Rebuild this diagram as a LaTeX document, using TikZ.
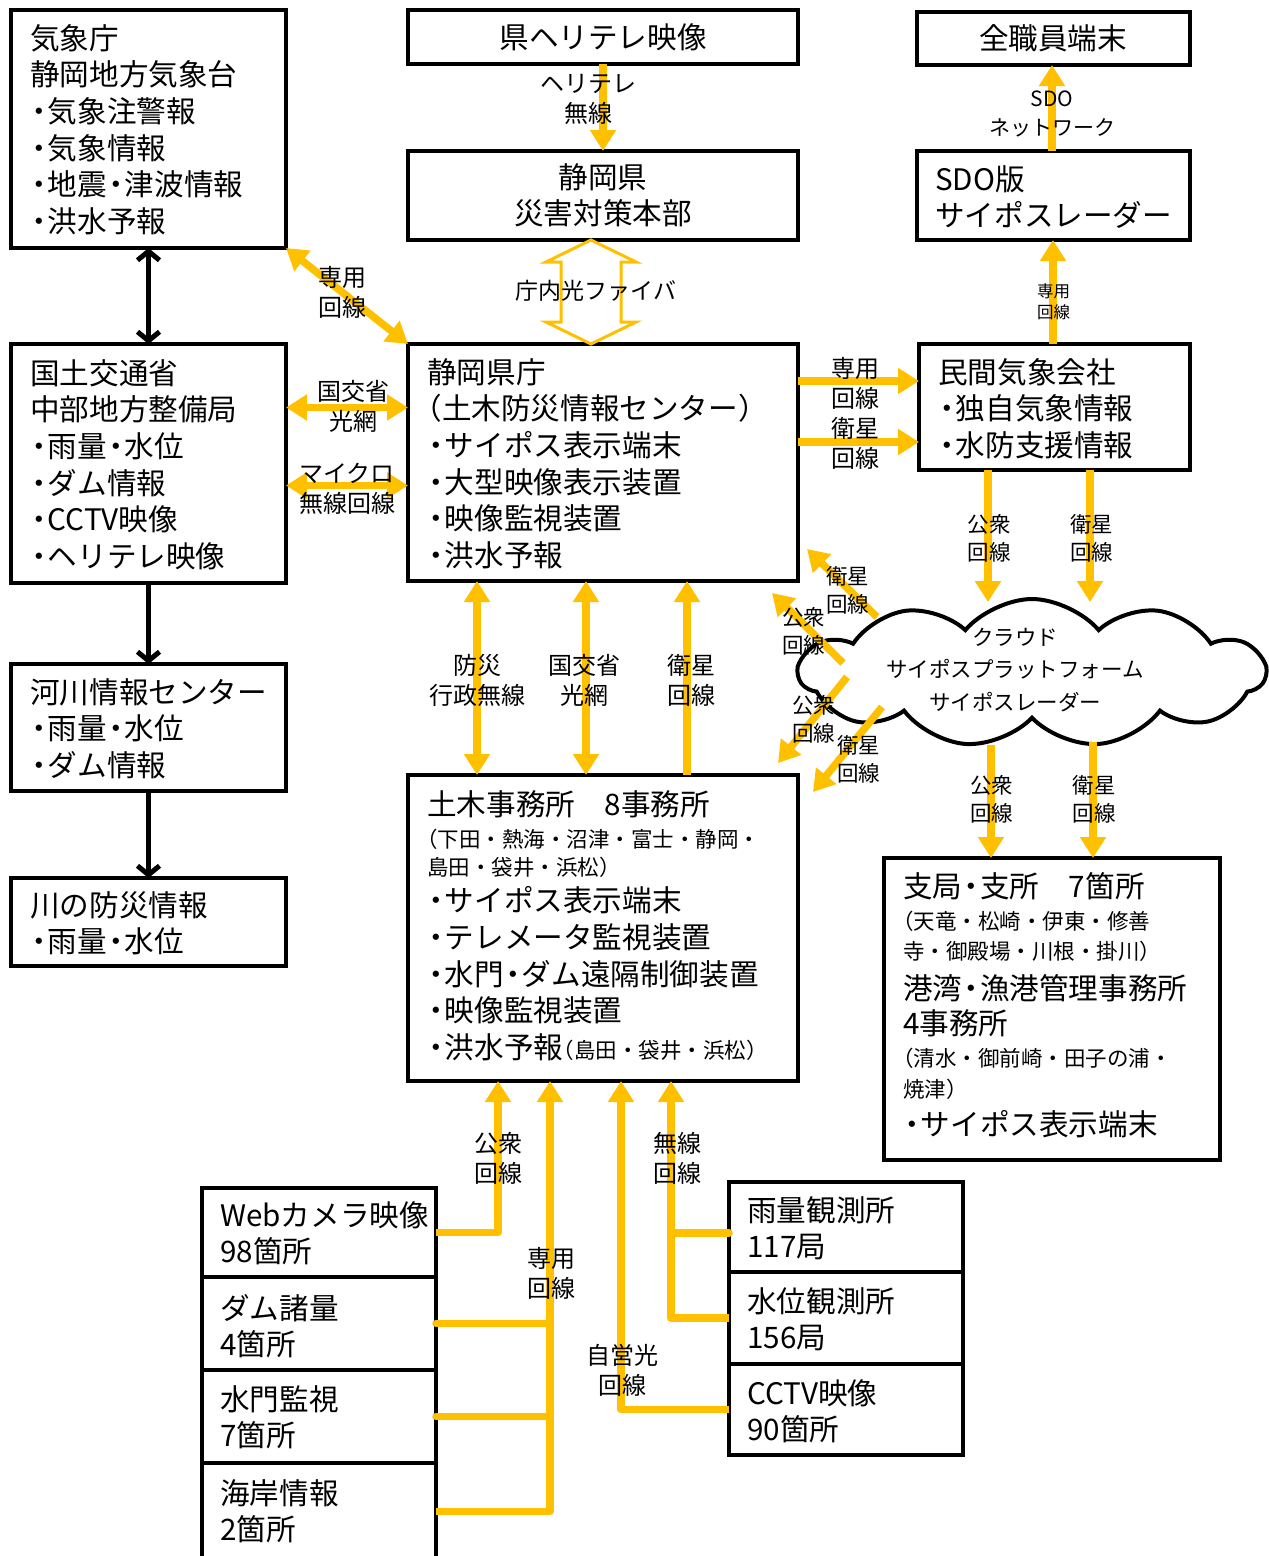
\documentclass[tikz,border=0pt]{standalone}
\usepackage{fontspec}
\setmainfont{Noto Sans CJK JP}
\usetikzlibrary{arrows.meta,shapes.symbols,calc}
\definecolor{ycol}{HTML}{FFC000}
\newcommand{\smtxt}[1]{{\fontsize{21.5}{36.7}\selectfont #1}}
\newcommand{\dt}{\makebox[0.6em][c]{・}}
\newcommand{\lp}{\makebox[0.5em][r]{（}}
\newcommand{\rp}{\makebox[0.5em][l]{）}}
\begin{document}
\begin{tikzpicture}[x=1pt,y=-1pt,
  box/.style={draw=black, line width=4pt, rectangle, inner sep=0pt, outer sep=0pt},
  btxt/.style={anchor=north west, align=left, inner sep=0pt, font=\fontsize{29.6}{36.7}\selectfont},
  ctxt/.style={align=center, inner sep=0pt, font=\fontsize{29.6}{35.5}\selectfont},
  lbl/.style={align=center, inner sep=0pt, font=\fontsize{24}{30}\selectfont},
  lbs/.style={align=center, inner sep=0pt, font=\fontsize{21.5}{28}\selectfont},
  yarr/.style={draw=ycol, line width=7.5pt, line join=round, -{Triangle[width=25pt,length=21pt]}},
  ydbl/.style={draw=ycol, line width=7.5pt, {Triangle[width=25pt,length=21pt]}-{Triangle[width=25pt,length=21pt]}},
  yln/.style={draw=ycol, line width=7.5pt, line cap=round},
  barr/.style={draw=black, line width=5pt, -{Straight Barb[width=22pt,length=9pt]}},
  bdbl/.style={draw=black, line width=5pt, {Straight Barb[width=22pt,length=9pt]}-{Straight Barb[width=22pt,length=9pt]}},
]
\useasboundingbox (0,0) rectangle (1269,1556);

% ---------- boxes ----------
\node[box, minimum width=275pt, minimum height=238pt] (kisho) at (148.5,129) {};
\node[box, minimum width=390pt, minimum height=54pt] (heli) at (603,37) {};
\node[box, minimum width=390pt, minimum height=89pt] (saigai) at (603,195.5) {};
\node[box, minimum width=273pt, minimum height=53pt] (zensho) at (1053.5,38.5) {};
\node[box, minimum width=273pt, minimum height=89pt] (sdo) at (1053.5,195.5) {};
\node[box, minimum width=271pt, minimum height=126pt] (minkan) at (1054.5,407) {};
\node[box, minimum width=275pt, minimum height=239pt] (kokudo) at (148.5,463.5) {};
\node[box, minimum width=390pt, minimum height=237pt] (kencho) at (603,462.5) {};
\node[box, minimum width=275pt, minimum height=127pt] (kasen) at (148.5,727.5) {};
\node[box, minimum width=275pt, minimum height=88pt] (kawa) at (148.5,922) {};
\node[box, minimum width=390pt, minimum height=306pt] (doboku) at (603,928) {};
\node[box, minimum width=336pt, minimum height=302pt] (shikyoku) at (1052,1009) {};
\node[box, minimum width=234pt, minimum height=89pt] (web) at (319,1232.5) {};
\node[box, minimum width=234pt, minimum height=93pt] (dam) at (319,1323.5) {};
\node[box, minimum width=234pt, minimum height=93pt] (suimon) at (319,1416.5) {};
\node[box, minimum width=234pt, minimum height=97pt] (kaigan) at (319,1511.5) {};
\node[box, minimum width=234pt, minimum height=90pt] (uryo) at (846,1227) {};
\node[box, minimum width=234pt, minimum height=92pt] (suii) at (846,1318) {};
\node[box, minimum width=234pt, minimum height=91pt] (cctv) at (846,1409.5) {};

% ---------- cloud ----------
\node[cloud, draw=black, fill=white, line width=4pt, cloud puffs=11, cloud puff arc=100, aspect=3, minimum width=466pt, minimum height=148pt, inner sep=0pt] (cloud) at (1032,673) {};

% ---------- box texts ----------
\node[btxt] (tkisho) at (30,24) {気象庁\\静岡地方気象台\\\dt 気象注警報\\\dt 気象情報\\\dt 地震\dt 津波情報\\\dt 洪水予報};
\node[ctxt] (theli) at (603,37) {県ヘリテレ映像};
\node[ctxt] (tsaigai) at (603,195.5) {静岡県\\災害対策本部};
\node[ctxt] (tzensho) at (1053,38) {全職員端末};
\node[btxt] (tsdo) at (935,165) {SDO版\\サイポスレーダー};
\node[btxt] (tminkan) at (938,358) {民間気象会社\\\dt 独自気象情報\\\dt 水防支援情報};
\node[btxt] (tkokudo) at (30,359) {国土交通省\\中部地方整備局\\\dt 雨量\dt 水位\\\dt ダム情報\\\dt CCTV映像\\\dt ヘリテレ映像};
\node[btxt] (tkencho) at (427,358) {静岡県庁\\\lp 土木防災情報センター\rp\\\dt サイポス表示端末\\\dt 大型映像表示装置\\\dt 映像監視装置\\\dt 洪水予報};
\node[btxt] (tkasen) at (30,678) {河川情報センター\\\dt 雨量\dt 水位\\\dt ダム情報};
\node[btxt] (tkawa) at (30,891) {川の防災情報\\\dt 雨量\dt 水位};
\node[btxt] (tdoboku) at (427,790) {土木事務所　8事務所\\[-4.7pt]
  \smtxt{\lp 下田・熱海・沼津・富士・静岡・}\\[-8.7pt]
  \smtxt{島田・袋井・浜松\rp}\\
  \dt サイポス表示端末\\\dt テレメータ監視装置\\\dt 水門\dt ダム遠隔制御装置\\\dt 映像監視装置\\\dt 洪水予報\smtxt{\lp 島田・袋井・浜松\rp}};
\node[btxt] (tshikyoku) at (903,872) {支局\dt 支所　7箇所\\[-4.7pt]
  \smtxt{\lp 天竜・松崎・伊東・修善}\\[-6.7pt]
  \smtxt{寺・御殿場・川根・掛川\rp}\\[3.3pt]
  港湾\dt 漁港管理事務所\\[-1.7pt]
  4事務所\\[-4.7pt]
  \smtxt{\lp 清水・御前崎・田子の浦・}\\[-5.7pt]
  \smtxt{焼津\rp}\\[1.3pt]
  \dt サイポス表示端末};
\node[btxt] (tweb) at (220,1201) {Webカメラ映像\\98箇所};
\node[btxt] (tdam) at (220,1294) {ダム諸量\\4箇所};
\node[btxt] (tsuimon) at (220,1385) {水門監視\\7箇所};
\node[btxt] (tkaigan) at (220,1479) {海岸情報\\2箇所};
\node[btxt] (turyo) at (747,1196) {雨量観測所\\117局};
\node[btxt] (tsuii) at (747,1287) {水位観測所\\156局};
\node[btxt] (tcctv) at (747,1379) {CCTV映像\\90箇所};
\node[align=center, inner sep=0pt, font=\fontsize{21.5}{32.5}\selectfont] (tcloud) at (1015,670) {クラウド\\サイポスプラットフォーム\\サイポスレーダー};

% ---------- black connectors ----------
\draw[bdbl] (kisho.south) -- (kokudo.north);
\draw[barr] (kokudo.south) -- (kasen.north);
\draw[barr] (kasen.south) -- (kawa.north);

% ---------- yellow connectors ----------
\draw[yarr] (heli.south) -- (saigai.north);
\draw[ydbl] (kisho.south east) -- (kencho.north west);
\draw[draw=ycol, line width=3pt, line join=miter, fill=white]
  ([xshift=-12pt]saigai.south) -- ++(45,22) -- ++(-15,0) -- ++(0,60) -- ++(15,0)
  -- ([xshift=-12pt]kencho.north) -- ++(-45,-22) -- ++(15,0) -- ++(0,-60) -- ++(-15,0) -- cycle;
\draw[ydbl] ([yshift=56pt]kokudo.east) -- ([yshift=56pt]kokudo.east -| kencho.west);
\draw[ydbl] ([yshift=-22pt]kokudo.east) -- ([yshift=-22pt]kokudo.east -| kencho.west);
\draw[yarr] ([yshift=81.5pt]kencho.east) -- ([yshift=81.5pt]kencho.east -| minkan.west);
\draw[yarr] ([yshift=20.5pt]kencho.east) -- ([yshift=20.5pt]kencho.east -| minkan.west);
\draw[yarr] ([xshift=-1.5pt]minkan.north) -- ([xshift=-1.5pt]minkan.north |- sdo.south);
\draw[yarr] ([xshift=-1.5pt]sdo.north) -- ([xshift=-1.5pt]sdo.north |- zensho.south);

\coordinate (cA) at (988,602);
\coordinate (cB) at (1090,602);
\coordinate (cC) at (991,745);
\coordinate (cD) at (1093,742);
\coordinate (cE) at (877,617);
\coordinate (tE) at (807,549);
\coordinate (cF) at (843,663);
\coordinate (tF) at (772,593);
\coordinate (cG) at (847,677);
\coordinate (tG) at (778,763);
\coordinate (cH) at (882,707);
\coordinate (tH) at (813,792);
\draw[yarr] ([xshift=-66.5pt]minkan.south) -- (cA);
\draw[yarr] ([xshift=35.5pt]minkan.south) -- (cB);
\draw[yarr] (cC) -- (cC |- shikyoku.north);
\draw[yarr] (cD) -- (cD |- shikyoku.north);
\draw[yarr] (cE) -- (tE);
\draw[yarr] (cF) -- (tF);
\draw[yarr] (cG) -- (tG);
\draw[yarr] (cH) -- (tH);

\draw[ydbl] ([xshift=-126pt]kencho.south) -- ([xshift=-126pt]doboku.north);
\draw[ydbl] ([xshift=-17pt]kencho.south) -- ([xshift=-17pt]doboku.north);
\draw[yarr] ([xshift=84pt]doboku.north) -- ([xshift=84pt]kencho.south);

% bottom
\coordinate (trW) at ([xshift=-105pt]doboku.south);
\coordinate (trS) at ([xshift=-53pt]doboku.south);
\coordinate (trJ) at ([xshift=18pt]doboku.south);
\coordinate (trM) at ([xshift=68pt]doboku.south);
\draw[yarr] (web.east) -| (trW);
\draw[yarr] (kaigan.east) -| (trS);
\draw[yln] (dam.east) -- (dam.east -| trS);
\draw[yln] (suimon.east) -- (suimon.east -| trS);
\draw[yarr] (cctv.west) -| (trJ);
\draw[yarr] (suii.west) -| (trM);
\draw[yln] ([yshift=-6pt]uryo.west) -- ([yshift=-6pt]uryo.west -| trM);

% ---------- labels ----------
\node[lbl] (lheli) at (588,99) {ヘリテレ\\無線};
\node[lbl] (lsen1) at (342.5,292) {専用\\回線};
\node[font=\fontsize{23}{28}\selectfont, inner sep=0pt] (lchonai) at (596,291) {庁内光ファイバ};
\node[lbl] (lkok1) at (353,406) {国交省\\光網};
\node[lbl] (lmic) at (347,489) {マイクロ\\無線回線};
\node[lbl] (lsen2) at (855,383) {専用\\回線};
\node[lbl] (lei1) at (855,443) {衛星\\回線};
\node[align=center, inner sep=0pt, font=\fontsize{16.5}{21}\selectfont] (lsen3) at (1053.5,301.5) {専用\\回線};
\node[align=center, inner sep=0pt, font=\fontsize{21}{29}\selectfont] (lsdo) at (1052,113.5) {SDO\\ネットワーク};
\node[lbs] (lko1) at (989,538) {公衆\\回線};
\node[lbs] (lei2) at (1091.5,538) {衛星\\回線};
\node[lbs] (lei3) at (847.5,590) {衛星\\回線};
\node[lbs] (lko2) at (803.5,631) {公衆\\回線};
\node[lbs] (lko3) at (813.5,719.5) {公衆\\回線};
\node[lbs] (lei4) at (858.5,759.5) {衛星\\回線};
\node[lbs] (lko4) at (991.5,799.5) {公衆\\回線};
\node[lbs] (lei5) at (1094,799.5) {衛星\\回線};
\node[lbl] (lbou) at (477,680) {防災\\行政無線};
\node[lbl] (lkok2) at (584,680) {国交省\\光網};
\node[lbl] (lei6) at (691,680) {衛星\\回線};
\node[lbl] (lko5) at (498.5,1158) {公衆\\回線};
\node[lbl] (lsen4) at (551,1273.5) {専用\\回線};
\node[lbl] (ljiei) at (622,1370) {自営光\\回線};
\node[lbl] (lmusen) at (677.5,1158) {無線\\回線};
\end{tikzpicture}
\end{document}
